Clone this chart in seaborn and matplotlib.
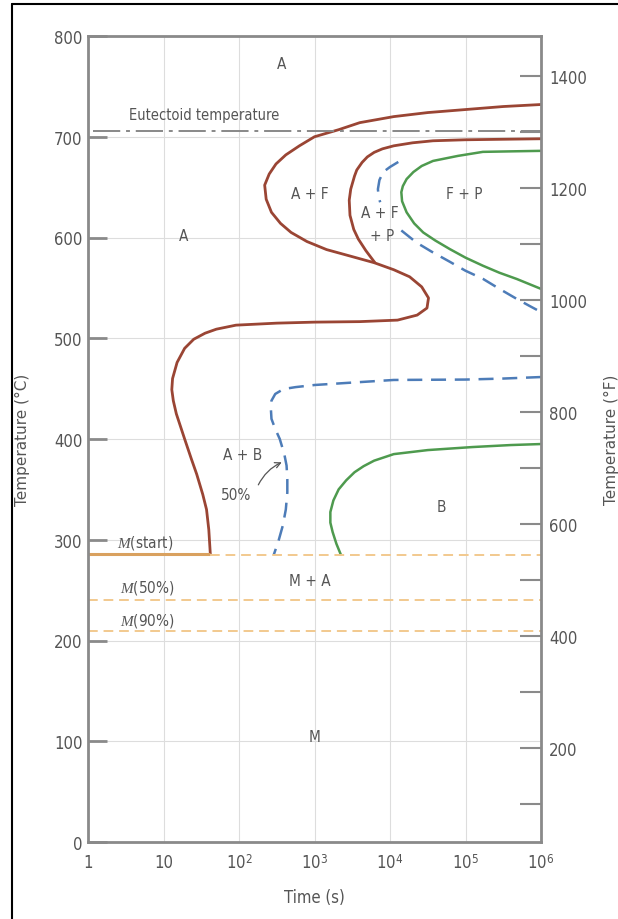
import numpy as np
import pandas as pd
import matplotlib
matplotlib.use("Agg")
import matplotlib.pyplot as plt
import seaborn as sns
from matplotlib.lines import Line2D
from matplotlib.ticker import FixedLocator, FixedFormatter

# ---------------- data (log10 time [s], temperature [°C]) ----------------
ferrite_start_logt = [6.0, 5.5, 5.0, 4.5, 4.05, 3.6, 3.32, 3.0, 2.8, 2.62, 2.49, 2.40, 2.34, 2.36,
                      2.43, 2.55, 2.69, 2.9, 3.16, 3.5, 3.79, 4.05, 4.26, 4.42, 4.51, 4.49, 4.36,
                      4.1, 3.6, 3.0, 2.5, 1.96, 1.7, 1.55, 1.40, 1.28, 1.18, 1.12, 1.11, 1.13,
                      1.17, 1.28, 1.37, 1.44, 1.52, 1.57, 1.60, 1.62]
ferrite_start_T = [732, 730, 727, 724, 720, 714, 707, 700, 691, 682, 673, 663, 652, 638,
                   625, 614, 605, 596, 588, 581, 575, 568, 561, 551, 540, 530, 523,
                   518, 516.5, 516, 515, 513, 509, 505, 499, 490, 476, 460, 449, 438,
                   425, 400, 380, 365, 345, 330, 310, 286]

pearlite_start_logt = [6.0, 5.5, 5.0, 4.57, 4.3, 4.05, 3.9, 3.79, 3.7, 3.63, 3.56, 3.53, 3.48,
                       3.46, 3.47, 3.52, 3.58, 3.68, 3.8]
pearlite_start_T = [698, 697.5, 697, 696, 694, 691, 688, 684.5, 680, 674.5, 667, 661, 648,
                    637, 622, 608, 598.5, 587, 575]

pearlite_end_logt = [6.0, 5.6, 5.23, 4.9, 4.57, 4.42, 4.31, 4.22, 4.17, 4.15, 4.16, 4.22, 4.32,
                     4.44, 4.6, 4.79, 5.0, 5.23, 5.45, 5.68, 6.0]
pearlite_end_T = [686, 685.5, 685, 681, 676, 671, 665, 658, 651, 645, 636, 625, 614,
                  605, 597, 588.6, 580, 572, 565, 558.8, 549]

half_upper_a_logt = [4.11, 4.0, 3.91, 3.86, 3.84, 3.85, 3.87]
half_upper_a_T = [675, 670, 665, 657, 648, 640, 635]
half_upper_b_logt = [4.15, 4.25, 4.35, 4.55, 4.79, 5.0, 5.23, 5.45, 5.68, 5.85, 6.0]
half_upper_b_T = [607, 601, 595, 586, 576, 567, 559, 549, 539, 532, 526]

half_lower_logt = [6.0, 5.5, 5.0, 4.05, 3.5, 3.0, 2.75, 2.59, 2.48, 2.43, 2.42, 2.43, 2.48,
                   2.54, 2.60, 2.63, 2.64, 2.64, 2.62, 2.58, 2.52, 2.46]
half_lower_T = [461.5, 460, 459, 458.6, 456, 453.6, 451.5, 449.6, 444.7, 438, 433, 420, 410,
                400, 385, 373.6, 360, 347, 330, 314, 298, 285]

bainite_end_logt = [6.0, 5.6, 5.09, 4.5, 4.05, 3.79, 3.65, 3.53, 3.42, 3.32, 3.25, 3.21, 3.21,
                    3.24, 3.29, 3.35]
bainite_end_T = [395, 394, 392, 389, 385, 378.5, 373, 367, 359, 350, 339, 327.5, 317,
                 307.7, 296, 285]

eutectoid_T = 706
m_start_T = 286
m_start_dash_T = 285
m50_T = 240
m90_T = 209
m_start_end_logt = 1.62

x_ticks = [1, 10, 1e2, 1e3, 1e4, 1e5, 1e6]
x_tick_labels = ["1", "10", "$10^2$", "$10^3$", "$10^4$", "$10^5$", "$10^6$"]
y_ticks_C = [0, 100, 200, 300, 400, 500, 600, 700, 800]
y_ticks_F = [200, 400, 600, 800, 1000, 1200, 1400]
y_minor_F = [100, 300, 500, 700, 900, 1100, 1300]

region_labels = [
    ("A", 2.57, 773), ("A", 1.27, 602), ("A + F", 2.94, 644), ("A + F", 3.87, 625),
    ("+ P", 3.9, 602), ("F + P", 4.99, 644), ("A + B", 2.05, 385), ("B", 4.68, 333),
    ("M + A", 2.94, 260), ("M", 3.0, 105),
]

# ---------------- style ----------------
sns.set_style("white")
plt.rcParams['font.family'] = ['DejaVu Sans']
plt.rcParams['font.stretch'] = 'condensed'
plt.rcParams['mathtext.fontset'] = 'custom'
plt.rcParams['mathtext.rm'] = 'DejaVu Sans:stretch=condensed'
plt.rcParams['mathtext.it'] = 'Liberation Serif:italic'

TXT = "#555555"
BROWN = "#9a4534"
GREEN = "#4e9a4e"
BLUE = "#4d7cb8"
ORANGE_D = "#f2c98e"
ORANGE_S = "#d9a15f"
SPINE = "#8a8a8a"

fig = plt.figure(figsize=(6.18, 9.2), dpi=100)
ax = fig.add_axes([88/618, 1-843/920, (541-88)/618, (843-37)/920])

def curve(lx, ty, **kw):
    df = pd.DataFrame({"t": 10**np.array(lx, dtype=float), "T": ty})
    sns.lineplot(data=df, x="t", y="T", sort=False, estimator=None, ax=ax, **kw)

curve(ferrite_start_logt, ferrite_start_T, color=BROWN, lw=2.0)
curve(pearlite_start_logt, pearlite_start_T, color=BROWN, lw=2.0)
curve(pearlite_end_logt, pearlite_end_T, color=GREEN, lw=1.8)
curve(bainite_end_logt, bainite_end_T, color=GREEN, lw=1.8)
for lx, ty in [(half_upper_a_logt, half_upper_a_T), (half_upper_b_logt, half_upper_b_T),
               (half_lower_logt, half_lower_T)]:
    df = pd.DataFrame({"t": 10**np.array(lx, dtype=float), "T": ty})
    ax.plot(df["t"], df["T"], color=BLUE, lw=1.8, dashes=(6, 3.5))

# horizontal lines
ax.plot([1, 10**m_start_end_logt], [m_start_T, m_start_T], color=ORANGE_S, lw=2.2, solid_capstyle='butt')
ax.plot([10**m_start_end_logt, 1e6], [m_start_dash_T, m_start_dash_T], color=ORANGE_D, lw=1.4, dashes=(5, 3))
ax.plot([1, 1e6], [m50_T, m50_T], color=ORANGE_D, lw=1.4, dashes=(5, 3))
ax.plot([1, 1e6], [m90_T, m90_T], color=ORANGE_D, lw=1.4, dashes=(5, 3))
ax.plot([10**0.06, 1e6], [eutectoid_T, eutectoid_T], color="#888888", lw=1.4,
        dashes=(14, 3, 2, 3))

ax.set_xscale("log")
ax.set_xlim(1, 1e6)
ax.set_ylim(0, 800)
ax.xaxis.set_major_locator(FixedLocator(x_ticks))
ax.xaxis.set_major_formatter(FixedFormatter(x_tick_labels))
ax.xaxis.set_minor_locator(FixedLocator([]))
ax.set_yticks(y_ticks_C)
ax.grid(True, color="#dddddd", lw=0.8)
ax.set_axisbelow(True)
ax.tick_params(axis='both', direction='in', colors=SPINE, labelcolor=TXT, labelsize=12)
ax.tick_params(axis='y', length=14, width=2, pad=4)
ax.tick_params(axis='x', length=22, width=1.2, pad=8)
for s in ax.spines.values():
    s.set_color(SPINE)
    s.set_linewidth(2)
ax.set_xlabel("Time (s)", fontsize=12, color=TXT)
ax.xaxis.set_label_coords(0.5, -(889-843)/806)
ax.set_ylabel("Temperature (°C)", fontsize=11, color=TXT, fontstretch='normal')
ax.yaxis.set_label_coords((30-88)/453, 0.5)

ax2 = ax.twinx()
ax2.set_ylim(0*9/5+32, 800*9/5+32)
ax2.set_yticks(y_ticks_F)
ax2.set_yticks(y_minor_F, minor=True)
ax2.tick_params(axis='y', which='both', direction='in', colors=SPINE, labelcolor=TXT,
                labelsize=12, length=15, width=1.5, pad=6)
for s in ax2.spines.values():
    s.set_visible(False)
ax2.set_ylabel("Temperature (°F)", fontsize=11, color=TXT, fontstretch='normal')
ax2.yaxis.set_label_coords((604-88)/453, 0.5)
ax2.grid(False)

# text labels
for txt, lx, ty in region_labels:
    ax.text(10**lx, ty, txt, ha='center', va='center', fontsize=11, color=TXT)
ax.text(10**1.54, 722, "Eutectoid temperature", ha='center', va='center', fontsize=10.5, color=TXT)
ax.text(10**0.76, 298, "$M$(start)", ha='center', va='center', fontsize=11, color=TXT)
ax.text(10**0.79, 253, "$M$(50%)", ha='center', va='center', fontsize=11, color=TXT)
ax.text(10**0.79, 220, "$M$(90%)", ha='center', va='center', fontsize=11, color=TXT)
ax.text(10**1.96, 345, "50%", ha='center', va='center', fontsize=11, color=TXT)
ax.annotate("", xy=(10**2.60, 378), xytext=(10**2.24, 352),
            arrowprops=dict(arrowstyle='->', connectionstyle='arc3,rad=-0.2',
                            color=TXT, lw=0.9))

# outer frame (left and top)
fig.add_artist(Line2D([12/618, 12/618], [0, 1-5/920], color='black', lw=1.5))
fig.add_artist(Line2D([12/618, 1], [1-5/920, 1-5/920], color='black', lw=1.5))

fig.savefig("out.png", dpi=100)
